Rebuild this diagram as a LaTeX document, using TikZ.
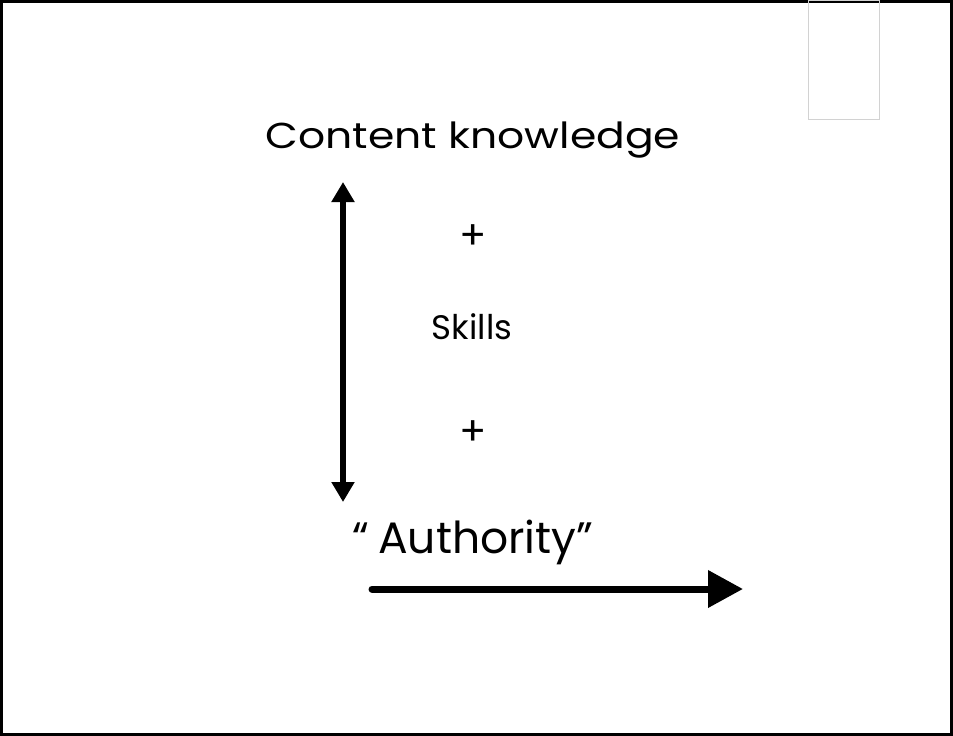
\documentclass[tikz,border=0pt]{standalone}
\usepackage{fontspec}
\setmainfont{Poppins}
\usetikzlibrary{arrows.meta}
\begin{document}
\begin{tikzpicture}[x=1pt,y=-1pt,
  lbl/.style={inner sep=0pt,anchor=base},
  plus/.style={inner sep=0pt,anchor=center,font=\fontsize{40}{44}\selectfont},
  dblarrow/.style={line width=6pt,{Triangle[width=22pt,length=20pt]}-{Triangle[width=22pt,length=20pt]}},
  fwdarrow/.style={line width=7pt,line cap=round,-{Triangle[width=36pt,length=35pt]}}]
\useasboundingbox (0,0) rectangle (953,736);
\draw[line width=3pt] (1.5,1.5) rectangle (951.5,734.5);
\draw[gray!35,line width=1pt] (808,0) rectangle (879,119);
\node[lbl] (ck) at (473,148) {\fontsize{36}{42}\selectfont\scalebox{1.18}[1]{Content knowledge}};
\node[plus] (p1) at (473,237) {+};
\node[lbl] (sk) at (472,339) {\fontsize{34}{40}\selectfont Skills};
\node[plus] (p2) at (473,433) {+};
\node[lbl] (au) at (473,553) {\fontsize{44}{50}\selectfont “\hspace{0.2em}Authority”};
\coordinate (vt) at (343,182);
\coordinate (vb) at (343,502);
\coordinate (hs) at (372,589);
\coordinate (he) at (743,589);
\draw[dblarrow] (vt) -- (vb);
\draw[fwdarrow] (hs) -- (he);
\end{tikzpicture}
\end{document}
